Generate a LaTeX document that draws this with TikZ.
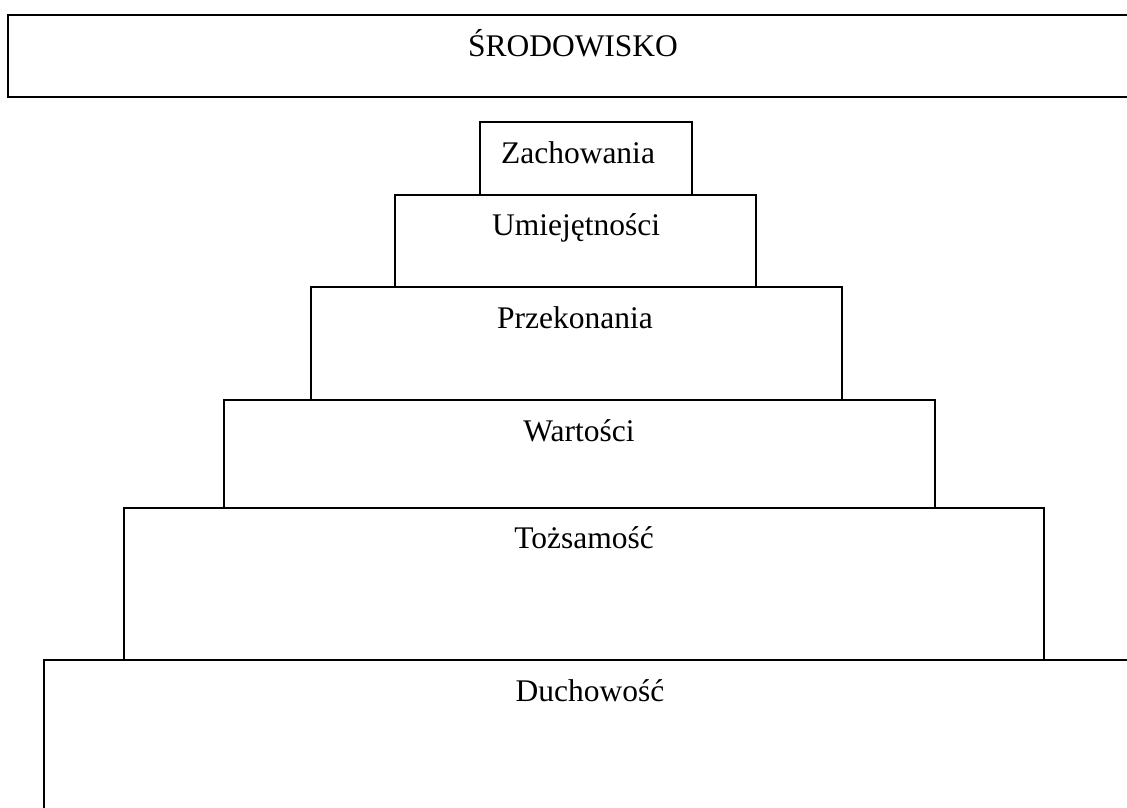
\documentclass[tikz,border=0pt]{standalone}
\usepackage{fontspec}
\setmainfont{Liberation Serif}
\begin{document}
\begin{tikzpicture}[x=1pt,y=-1pt,
  layer/.style={draw=black,line width=1.6pt,fill=none},
  lbl/.style={anchor=base,inner sep=0pt,font=\fontsize{31.5}{36}\selectfont}]
\useasboundingbox (0,0) rectangle (1127,807);
\begin{scope}
\clip (0,0) rectangle (1127,807);
\draw[layer] (8,15) rectangle (1140,97);
\draw[layer] (44,660) rectangle (1140,820);
\end{scope}
\draw[layer] (124,508) rectangle (1044,660);
\draw[layer] (224,400) rectangle (935,508);
\draw[layer] (311,287) rectangle (842,400);
\draw[layer] (395,195) rectangle (756,287);
\draw[layer] (480,122) rectangle (692,195);
\node[lbl] (srod) at (573,56) {ŚRODOWISKO};
\node[lbl] (zach) at (578,163) {Zachowania};
\node[lbl] (umie) at (576,235) {Umiejętności};
\node[lbl] (prze) at (575,328) {Przekonania};
\node[lbl] (wart) at (579,441) {Wartości};
\node[lbl] (tozs) at (584,548) {Tożsamość};
\node[lbl] (duch) at (590,701) {Duchowość};
\end{tikzpicture}
\end{document}
